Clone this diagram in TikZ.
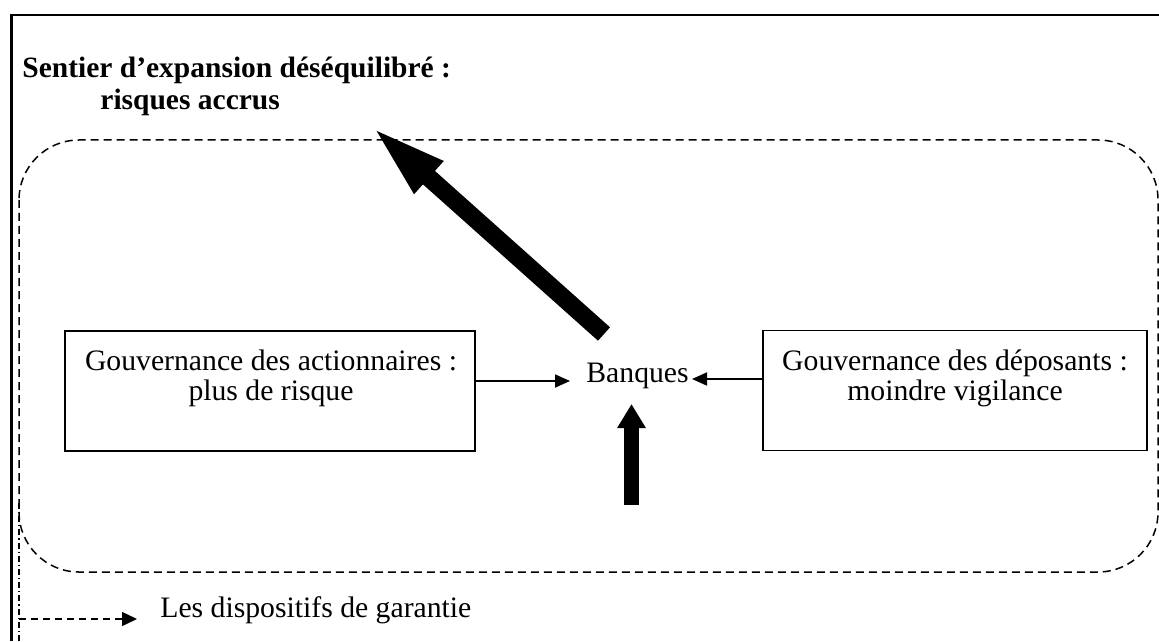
\documentclass[tikz,border=0pt]{standalone}
\usepackage{fontspec}
\setmainfont{Liberation Serif}
\usetikzlibrary{arrows.meta}
\begin{document}
\begin{tikzpicture}[x=0.5pt,y=-0.5pt,
  txt/.style={font=\fontsize{14.85}{15}\selectfont, inner sep=0pt},
  ttl/.style={font=\fontsize{14.75}{15}\selectfont\bfseries, inner sep=0pt, anchor=base west},
  boxx/.style={draw, line width=0.9pt, minimum height=60pt, inner sep=0pt},
  thinarrow/.style={line width=0.9pt, -{Triangle[length=7.5pt,width=6.5pt]}},
  bigarrow/.style={line width=9pt, -{Triangle[length=39.5pt,width=19pt]}},
  midarrow/.style={line width=7.5pt, -{Triangle[length=12pt,width=13.5pt]}},
  dashline/.style={line width=0.75pt, dash pattern=on 4pt off 2.5pt},
  dashdotline/.style={line width=0.75pt, dash pattern=on 3pt off 1.5pt on 0.6pt off 1.5pt},
]
\useasboundingbox (0,0) rectangle (1159,641);
% outer frame
\draw[line width=1.2pt] (11.5,641) -- (11.5,15) -- (1159,15);
% title
\node[ttl] (t1) at (22,78) {Sentier d’expansion déséquilibré :};
\node[ttl] (t2) at (100,110) {risques accrus};
% dashed rounded frame
\draw[dashline, rounded corners=30pt] (19,140) rectangle (1158,572);
% boxes
\node[boxx, minimum width=205pt] (lbox) at (270,391) {};
\node[txt, anchor=base] (l1) at (271,370) {Gouvernance des actionnaires :};
\node[txt, anchor=base] (l2) at (271,400) {plus de risque};
\node[boxx, minimum width=192pt] (rbox) at (955,390.5) {};
\node[txt, anchor=base] (r1) at (955,370) {Gouvernance des déposants :};
\node[txt, anchor=base] (r2) at (955,400) {moindre vigilance};
% Banques
\node[txt, anchor=base west] (banq) at (586,382) {Banques};
\coordinate (la) at (475,381);
\coordinate (lb) at (570,381);
\coordinate (ra) at (763,379);
\coordinate (rb) at (692,379);
\draw[thinarrow] (la) -- (lb);
\draw[thinarrow] (ra) -- (rb);
% thick arrows
\coordinate (d1) at (604,334);
\coordinate (d2) at (370,125);
\draw[bigarrow] (d1) -- (d2);
\coordinate (v1) at (631.5,505);
\coordinate (v2) at (631.5,404);
\draw[midarrow] (v1) -- (v2);
% guarantee legend
\draw[dashdotline] (19,503) -- (19,641);
\node[txt, anchor=base west] (gar) at (160,617) {Les dispositifs de garantie};
\coordinate (ga) at (19,619);
\coordinate (gb) at (137,619);
\draw[line width=0.75pt, dash pattern=on 3.5pt off 2.5pt, -{Triangle[length=7.5pt,width=7pt]}] (ga) -- (gb);
\end{tikzpicture}
\end{document}
